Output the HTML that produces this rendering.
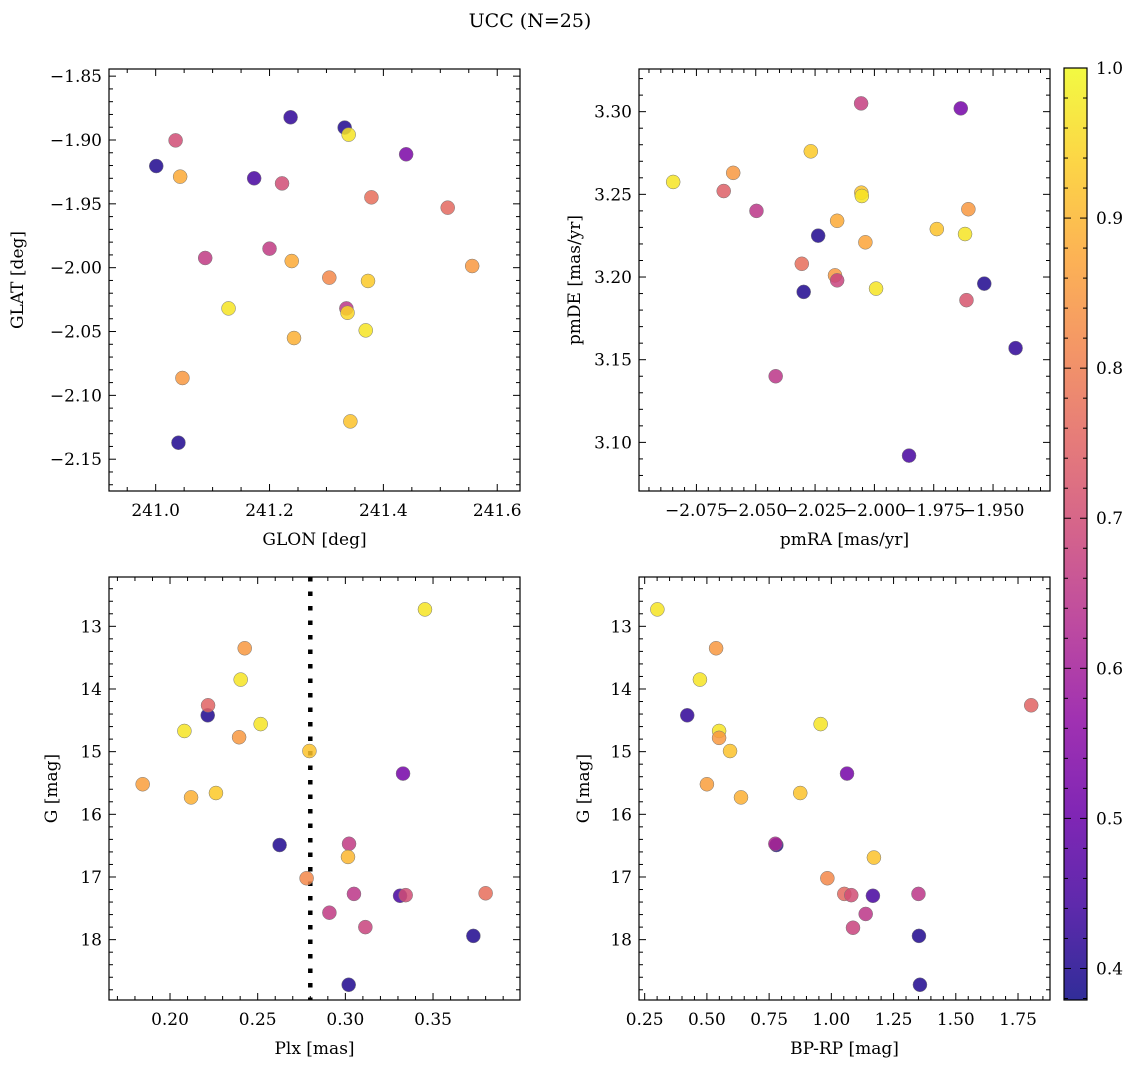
<!DOCTYPE html>
<html><head><meta charset="utf-8"><style>
body{margin:0;background:#fff}
svg text{font-family:"DejaVu Serif","Liberation Serif",serif;fill:#000}
</style></head><body>
<svg id="fig" width="1136" height="1068" xmlns="http://www.w3.org/2000/svg">
<text x="530" y="27" font-size="19" text-anchor="middle">UCC (N=25)</text>
<defs><linearGradient id="cbg" x1="0" y1="1" x2="0" y2="0"></linearGradient></defs>
</svg>
<script>
// ---------- data ----------
const glon=[241.001,241.035,241.043,241.047,241.040,241.087,241.128,241.173,241.200,241.222,241.237,241.239,241.243,241.305,241.332,241.339,241.335,241.337,241.342,241.373,241.369,241.379,241.440,241.513,241.556];
const glat=[-1.9204,-1.9003,-1.9287,-2.0864,-2.1371,-1.9924,-2.0319,-1.930,-1.9851,-1.934,-1.8822,-1.9948,-2.0551,-2.0078,-1.8903,-1.8958,-2.0319,-2.0353,-2.1204,-2.0104,-2.0491,-1.9449,-1.9112,-1.953,-1.9987];
const probTL=[0.40,0.70,0.88,0.85,0.40,0.66,0.97,0.45,0.66,0.70,0.42,0.88,0.89,0.82,0.40,0.97,0.65,0.95,0.92,0.93,0.97,0.77,0.53,0.76,0.85];
const pmra=[-2.0848,-2.0635,-2.0595,-2.0497,-2.0416,-2.0306,-2.0298,-2.0268,-2.0237,-2.0166,-2.0157,-2.0157,-2.0056,-2.0055,-2.0053,-2.0038,-1.9993,-1.9854,-1.9737,-1.9636,-1.9618,-1.9604,-1.9612,-1.9537,-1.9405];
const pmde=[3.2575,3.252,3.263,3.240,3.140,3.208,3.191,3.276,3.225,3.201,3.198,3.234,3.305,3.251,3.249,3.221,3.193,3.092,3.229,3.302,3.226,3.241,3.186,3.196,3.157];
const probTR=[0.97,0.74,0.85,0.65,0.65,0.77,0.40,0.93,0.40,0.85,0.68,0.88,0.67,0.92,0.97,0.87,0.97,0.45,0.92,0.52,0.97,0.85,0.72,0.40,0.42];
const plx=[0.1844,0.2082,0.2120,0.2215,0.2217,0.2262,0.2394,0.2403,0.2426,0.2517,0.2625,0.2779,0.2795,0.2909,0.3019,0.3021,0.3015,0.3049,0.3114,0.3312,0.3344,0.3329,0.3454,0.3730,0.3800];
const gBL=[15.52,14.67,15.73,14.42,14.26,15.66,14.77,13.85,13.35,14.56,16.49,17.02,14.99,17.57,18.72,16.47,16.68,17.27,17.80,17.30,17.29,15.35,12.73,17.94,17.26];
const probBL=[0.86,0.97,0.89,0.40,0.75,0.93,0.85,0.97,0.85,0.97,0.40,0.82,0.92,0.66,0.40,0.66,0.90,0.65,0.68,0.45,0.70,0.52,0.97,0.40,0.77];
const bprp=[0.301,0.537,0.472,0.421,0.549,0.549,0.593,0.500,0.637,0.957,0.875,1.063,0.779,0.775,0.984,1.052,1.080,1.087,1.138,1.167,1.171,1.350,1.352,1.356,1.803];
const gBR=[12.73,13.35,13.85,14.42,14.67,14.78,14.99,15.52,15.73,14.56,15.66,15.35,16.49,16.47,17.02,17.27,17.29,17.81,17.59,17.30,16.69,17.27,17.94,18.72,14.26];
const probBR=[0.97,0.85,0.97,0.42,0.97,0.85,0.92,0.86,0.89,0.97,0.92,0.52,0.40,0.62,0.82,0.76,0.70,0.68,0.65,0.45,0.92,0.65,0.40,0.40,0.75];
const plxLine=0.28;
const cbTicks=[0.4,0.5,0.6,0.7,0.8,0.9,1.0];
const cbMin=0.379, cbMax=1.0;

const NS="http://www.w3.org/2000/svg";
const svg=document.getElementById('fig');
function mk(tag,attrs,parent){const e=document.createElementNS(NS,tag);for(const k in attrs)e.setAttribute(k,attrs[k]);(parent||svg).appendChild(e);return e;}
const stops=["#0d0887","#41049d","#6a00a8","#8f0da4","#b12a90","#cc4778","#e16462","#f2844b","#fca636","#fcce25","#f0f921"];
function hex(h){return [1,3,5].map(i=>parseInt(h.substr(i,2),16));}
function plasma(t){t=Math.max(0,Math.min(1,t));const f=t*10,i=Math.min(9,Math.floor(f)),r=f-i;const a=hex(stops[i]),b=hex(stops[i+1]);return 'rgb('+a.map((v,k)=>Math.round(v+(b[k]-v)*r)).join(',')+')';}
function col(p){return plasma((p-cbMin)/(cbMax-cbMin));}

function fmt(v,d){let s=v.toFixed(d);return s.replace('-','\u2212');}
function panel(o){
  const g=mk('g',{});
  
  
  const sx=v=>o.x0+(v-o.xmin)/(o.xmax-o.xmin)*(o.x1-o.x0);
  const sy=o.yinv?(v=>o.y0+(v-o.ymin)/(o.ymax-o.ymin)*(o.y1-o.y0)):(v=>o.y1-(v-o.ymin)/(o.ymax-o.ymin)*(o.y1-o.y0));
  const tk=mk('g',{stroke:'#000','stroke-width':1},g);
  
  
  function ticksX(step,n,dig){
    const ms=step/n;const s=Math.ceil(o.xmin/ms-1e-6);
    for(let k=s;k*ms<=o.xmax+1e-9;k++){const v=k*ms,X=sx(v);const major=Math.abs(Math.round(k/n)*n-k)<1e-6;const L=major?7:4;
      mk('line',{x1:X,x2:X,y1:o.y1,y2:o.y1-L},tk);mk('line',{x1:X,x2:X,y1:o.y0,y2:o.y0+L},tk);
      if(major){const t=mk('text',{x:X,y:o.y1+25,'font-size':17,'text-anchor':'middle'},g);t.textContent=fmt(v,dig);}}
  }
  function ticksY(step,n,dig){
    const lo=Math.min(o.ymin,o.ymax),hi=Math.max(o.ymin,o.ymax);const ms=step/n;const s=Math.ceil(lo/ms-1e-6);
    for(let k=s;k*ms<=hi+1e-9;k++){const v=k*ms,Y=sy(v);const major=Math.abs(Math.round(k/n)*n-k)<1e-6;const L=major?7:4;
      mk('line',{x1:o.x0,x2:o.x0+L,y1:Y,y2:Y},tk);mk('line',{x1:o.x1,x2:o.x1-L,y1:Y,y2:Y},tk);
      if(major){const t=mk('text',{x:o.x0-7,y:Y+6,'font-size':17,'text-anchor':'end'},g);t.textContent=fmt(v,dig);}}
  }
  ticksX(o.xs,o.xn,o.xd);ticksY(o.ys,o.yn,o.yd);
  if(o.vline!==undefined){const l=mk('line',{x1:sx(o.vline),x2:sx(o.vline),y1:o.y0,y2:o.y1,stroke:'#000','stroke-width':4.5,'stroke-dasharray':'4.5,10'},g);}
  for(let i=0;i<o.xv.length;i++){
    const c=mk('circle',{cx:sx(o.xv[i]),cy:sy(o.yv[i]),r:7,fill:col(o.pv[i]),'fill-opacity':0.85,stroke:'#777','stroke-width':0.5},g);
    
    
  }
  const fr=mk('rect',{x:o.x0,y:o.y0,width:o.x1-o.x0,height:o.y1-o.y0,fill:'none',stroke:'#000','stroke-width':1.2},g);
  
  const xl=mk('text',{x:(o.x0+o.x1)/2,y:o.y1+54,'font-size':17,'text-anchor':'middle'},g);xl.textContent=o.xl;
  
  const yx=o.ylx;const yl=mk('text',{x:yx,y:(o.y0+o.y1)/2,'font-size':17,'text-anchor':'middle',transform:'rotate(-90 '+yx+' '+((o.y0+o.y1)/2)+')'},g);yl.textContent=o.yl;
  
}
panel({name:'glon-glat-panel',x0:109,x1:520,y0:69,y1:491,xmin:240.918,xmax:241.640,ymin:-2.1749,ymax:-1.8444,xs:0.2,xn:4,xd:1,ys:0.05,yn:5,yd:2,xv:glon,yv:glat,pv:probTL,xl:'GLON [deg]',yl:'GLAT [deg]',ylx:23});
panel({name:'pm-panel',x0:639,x1:1050,y0:69,y1:491,xmin:-2.0992,xmax:-1.926,ymin:3.0706,ymax:3.3258,xs:0.025,xn:5,xd:3,ys:0.05,yn:5,yd:2,xv:pmra,yv:pmde,pv:probTR,xl:'pmRA [mas/yr]',yl:'pmDE [mas/yr]',ylx:580});
panel({name:'plx-g-panel',x0:109,x1:520,y0:577,y1:1000,xmin:0.1652,xmax:0.3996,ymin:12.213,ymax:18.963,yinv:true,xs:0.05,xn:5,xd:2,ys:1,yn:5,yd:0,xv:plx,yv:gBL,pv:probBL,vline:plxLine,xl:'Plx [mas]',yl:'G [mag]',ylx:57});
panel({name:'cmd-panel',x0:639,x1:1050,y0:577,y1:1000,xmin:0.2272,xmax:1.8785,ymin:12.213,ymax:18.963,yinv:true,xs:0.25,xn:5,xd:2,ys:1,yn:5,yd:0,xv:bprp,yv:gBR,pv:probBR,xl:'BP-RP [mag]',yl:'G [mag]',ylx:589});

const grad=document.getElementById('cbg');
for(let i=0;i<=10;i++)mk('stop',{offset:(i*10)+'%','stop-color':stops[i],'stop-opacity':0.85},grad);
const cb=mk('g',{});
const cx0=1064,cx1=1087,cy0=68,cy1=1000;
mk('rect',{x:cx0,y:cy0,width:cx1-cx0,height:cy1-cy0,fill:'url(#cbg)',stroke:'#000','stroke-width':1.2},cb);
const cy=v=>cy1-(v-cbMin)/(cbMax-cbMin)*(cy1-cy0);
for(let k=Math.ceil(cbMin*50);k<=50;k++){const v=k/50,Y=cy(v),maj=k%5===0;mk('line',{x1:cx1,x2:cx1-(maj?7:4),y1:Y,y2:Y,stroke:'#000'},cb);mk('line',{x1:cx0,x2:cx0+(maj?7:4),y1:Y,y2:Y,stroke:'#000'},cb);}
cbTicks.forEach(v=>{const t=mk('text',{x:cx1+9,y:cy(v)+6,'font-size':17},cb);t.textContent=v.toFixed(1);});
</script>
</body></html>
